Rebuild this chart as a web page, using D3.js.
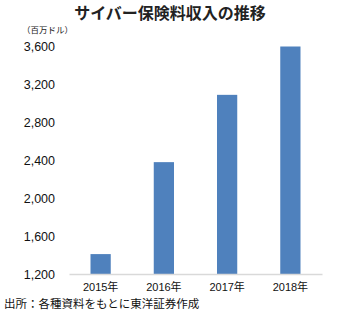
<!DOCTYPE html>
<html>
<head>
<meta charset="utf-8">
<script src="https://cdn.jsdelivr.net/npm/d3@7"></script>
<style>
  body { margin: 0; background: #fff; }
  svg text { font-family: "Liberation Sans", "Noto Sans CJK JP", sans-serif; }
  .jp { font-family: "Noto Sans CJK JP", sans-serif; }
</style>
</head>
<body>
<div id="chart"></div>
<script>
// データ
let years = ['2015年', '2016年', '2017年', '2018年'];
let premiums = [1410, 2380, 3090, 3600];
let y_ticks = [1200, 1600, 2000, 2400, 2800, 3200, 3600];

let width = 340;
let height = 320;

let svg = d3.select('#chart')
    .append('svg')
    .attr('width', width)
    .attr('height', height);

// スケール
let x = d3.scaleBand()
    .domain(years)
    .range([69, 322])
    .paddingInner(0.68)
    .paddingOuter(0.34);

let y = d3.scaleLinear()
    .domain([1200, 3600])
    .range([274, 46.5]);

// タイトル
svg.append('text')
    .attr('class', 'jp')
    .attr('x', 170)
    .attr('y', 19)
    .attr('text-anchor', 'middle')
    .attr('font-size', 16)
    .attr('font-weight', 'bold')
    .attr('fill', '#222')
    .text('サイバー保険料収入の推移');

svg.append('text')
    .attr('class', 'jp')
    .attr('x', 22)
    .attr('y', 33)
    .attr('font-size', 8.5)
    .attr('fill', '#222')
    .text('（百万ドル）');

// y軸ラベル
let yAxis = svg.append('g')
    .attr('transform', 'translate(55,0)')
    .call(d3.axisLeft(y).tickValues(y_ticks).tickSize(0).tickPadding(0).tickFormat(d3.format(',')));
yAxis.select('.domain').remove();
yAxis.selectAll('text')
    .attr('font-size', 12.5)
    .attr('fill', '#111')
    .style('font-family', '"Liberation Sans", sans-serif');

// 棒
svg.selectAll('rect.bar')
    .data(premiums)
    .enter()
    .append('rect')
    .attr('class', 'bar')
    .attr('x', (d, i) => x(years[i]))
    .attr('y', d => y(d))
    .attr('width', x.bandwidth())
    .attr('height', d => y(1200) - y(d))
    .attr('fill', '#4f81bd');

// x軸
let xAxis = svg.append('g')
    .attr('transform', 'translate(0,' + y(1200) + ')')
    .call(d3.axisBottom(x).tickSize(0).tickPadding(9));
xAxis.select('.domain')
    .attr('stroke', '#d9d9d9')
    .attr('stroke-width', 1.5);
xAxis.selectAll('text')
    .attr('font-size', 11)
    .attr('fill', '#111')
    .style('font-family', '"Liberation Sans", "Noto Sans CJK JP", sans-serif');

// 出所
svg.append('text')
    .attr('class', 'jp')
    .attr('x', 4)
    .attr('y', 308)
    .attr('font-size', 11.5)
    .attr('fill', '#111')
    .text('出所：各種資料をもとに東洋証券作成');
</script>
</body>
</html>
